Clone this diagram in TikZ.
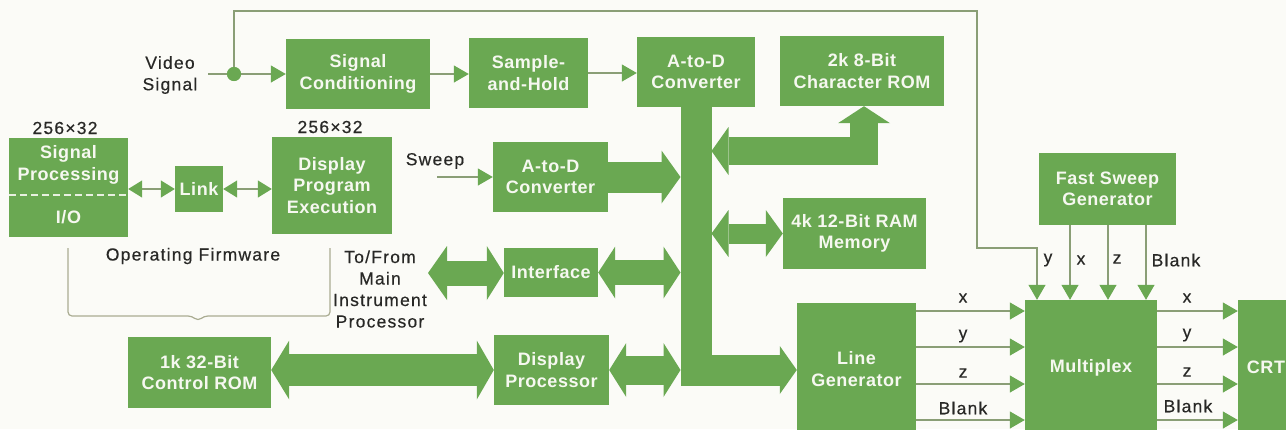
\documentclass[tikz,border=0pt]{standalone}
\usepackage{fontspec}
\setmainfont{Liberation Sans}[LetterSpace=7, FakeBold=0.4]
\newfontfamily\boxfont{Liberation Sans}[LetterSpace=3]
\usetikzlibrary{arrows.meta}
\definecolor{grn}{RGB}{106,168,82}
\definecolor{wire}{RGB}{138,158,118}
\definecolor{ink}{RGB}{40,40,38}
\definecolor{paper}{RGB}{251,251,247}
\definecolor{boxtxt}{RGB}{246,248,240}
\definecolor{brk}{RGB}{170,172,146}
\tikzset{
  blk/.style={fill=grn, text=boxtxt, inner sep=0pt, align=center,
    font=\boxfont\bfseries\fontsize{18}{21.5}\selectfont},
  lbl/.style={text=ink, inner sep=0pt, align=center,
    font=\fontsize{17.5}{21.5}\selectfont},
  wireline/.style={draw=wire, line width=1.2pt},
  sig/.style={wireline, -{Triangle[length=15pt,width=17pt,color=grn]}},
  bus/.style={draw=grn, line cap=butt, line join=miter}
}
\begin{document}
\begin{tikzpicture}[x=1pt,y=-1pt]
\fill[paper] (0,0) rectangle (1286,429);
\useasboundingbox (0,0) rectangle (1286,429);

% blocks
\node[blk,minimum width=144,minimum height=70] (sc)   at (358,74)    {Signal\\Conditioning};
\node[blk,minimum width=119,minimum height=70] (sh)   at (528.5,73)  {Sample-\\and-Hold};
\node[blk,minimum width=118,minimum height=70] (adc1) at (696,72)    {A-to-D\\Converter};
\node[blk,minimum width=164,minimum height=70] (crom) at (862,71)    {2k 8-Bit\\Character ROM};
\node[blk,minimum width=119,minimum height=99] (sp)   at (68.5,187.5) {};
\node[blk,fill=none] (sptop) at (68.5,165) {Signal\\Processing};
\node[blk,fill=none] (spio)  at (68.5,217) {I/O};
\node[blk,minimum width=48,minimum height=46]  (link) at (199,189)   {Link};
\node[blk,minimum width=120,minimum height=97] (dpe)  at (332,185.5) {Display\\Program\\Execution};
\node[blk,minimum width=115,minimum height=70] (adc2) at (550.5,177) {A-to-D\\Converter};
\node[blk,minimum width=137,minimum height=72] (fsg)  at (1107.5,189) {Fast Sweep\\Generator};
\node[blk,minimum width=143,minimum height=71] (ram)  at (854.5,233.5) {4k 12-Bit RAM\\Memory};
\node[blk,minimum width=94,minimum height=49]  (iface) at (551,272.5) {Interface};
\node[blk,minimum width=143,minimum height=71] (ctl)  at (199.5,372.5) {1k 32-Bit\\Control ROM};
\node[blk,minimum width=115,minimum height=70] (dp)   at (551.5,370) {Display\\Processor};
\node[blk,minimum width=119,minimum height=132] (lg)  at (856.5,369) {Line\\Generator};
\node[blk,minimum width=132,minimum height=135] (mux) at (1091,367.5) {Multiplex};
\node[blk,minimum width=56,minimum height=135]  (crt) at (1266,367.5) {CRT};

% dashed divider inside the signal processing block
\draw[boxtxt!90!grn, line width=1.3pt, dash pattern=on 7pt off 4pt]
  (sp.west |- 0,195) -- (sp.east |- 0,195);

% plain labels
\node[lbl] (video) at (170,75) {Video\\Signal};
\node[lbl] (sweep) at (435,161) {Sweep};
\node[lbl] (sz1)   at (65,128) {256×32};
\node[lbl] (sz2)   at (330,127) {256×32};
\node[lbl] (fw)    at (193,256) {Operating Firmware};
\node[lbl] (host)  at (380,289) {To/From\\Main\\Instrument\\Processor};

% reference points
\coordinate (vin)  at (208,74);
\coordinate (swin) at (437,177);
\coordinate (hostio) at (428,273);
\coordinate (busL) at (680.5,0);
\coordinate (busR) at (711.5,0);
\coordinate (bc)   at (0,370);
\coordinate (rk)   at (864,151);
\coordinate (my)   at (1037,248);
\coordinate (cx1)  at (1070,0);
\coordinate (cz1)  at (1108,0);
\coordinate (cb1)  at (1146,0);
\coordinate (r1) at (0,311);
\coordinate (r2) at (0,347);
\coordinate (r3) at (0,384);
\coordinate (r4) at (0,420);

% video path
\node[circle, fill=grn, minimum size=14, inner sep=0pt] (dot) at (234,74) {};
\draw[wireline] (vin) -- (dot);
\draw[sig] (dot) -- (sc.west);
\draw[sig] (dot.center) -- (dot.center |- 0,11) -- (977,11) -- (977,248) -- (my) -- (my |- mux.north);
\node[circle, fill=grn, minimum size=14, inner sep=0pt] at (dot) {};
\draw[sig] (sc.east) -- (sc.east -| sh.west);
\draw[sig] (sh.east) -- (sh.east -| adc1.west);
\draw[sig] (swin) -- (adc2.west);

% link
\draw[wireline, {Triangle[length=14pt,width=17pt,color=grn]}-{Triangle[length=14pt,width=17pt,color=grn]}]
  (link.west -| sp.east) -- (link.west);
\draw[wireline, {Triangle[length=14pt,width=17pt,color=grn]}-{Triangle[length=14pt,width=17pt,color=grn]}]
  (link.east) -- (link.east -| dpe.west);

% firmware bracket
\draw[brk, line width=1.2pt, rounded corners=4pt]
  (68,248) -- (68,316) -- (192,316) -- (198,321) -- (204,316) -- (330,316) -- (330,248);

% data bus
\draw[bus, line width=31pt, -{Triangle[length=17pt,width=48pt,line width=0pt 0 0]}]
  (adc1.south) -- (adc1.south |- bc) -- (lg.west |- bc);
\draw[bus, line width=31pt, -{Triangle[length=19pt,width=53pt,line width=0pt 0 0]}]
  (adc2.east) -- (adc2.east -| busL);
\draw[bus, line width=28pt, {Triangle[length=17pt,width=48pt,line width=0pt 0 0]}-{Triangle[length=17pt,width=52pt,line width=0pt 0 0]}]
  (busR |- rk) -- (rk) -- (rk |- crom.south);
\draw[bus, line width=20pt, {Triangle[length=17pt,width=47pt,line width=0pt 0 0]}-{Triangle[length=17pt,width=47pt,line width=0pt 0 0]}]
  (busR |- ram.west) -- (ram.west);
\draw[bus, line width=25pt, {Triangle[length=19pt,width=54pt,line width=0pt 0 0]}-{Triangle[length=17pt,width=54pt,line width=0pt 0 0]}]
  (hostio) -- (hostio -| iface.west);
\draw[bus, line width=25pt, {Triangle[length=17pt,width=52pt,line width=0pt 0 0]}-{Triangle[length=17pt,width=52pt,line width=0pt 0 0]}]
  (iface.east) -- (iface.east -| busL);
\draw[bus, line width=29pt, {Triangle[length=17pt,width=54pt,line width=0pt 0 0]}-{Triangle[length=17pt,width=54pt,line width=0pt 0 0]}]
  (dp.east) -- (dp.east -| busL);
\draw[bus, line width=32pt, {Triangle[length=18pt,width=59pt,line width=0pt 0 0]}-{Triangle[length=17pt,width=59pt,line width=0pt 0 0]}]
  (ctl.east |- dp.west) -- (dp.west);

% fast sweep lines
\draw[sig] (fsg.south -| cx1) -- (mux.north -| cx1);
\draw[sig] (fsg.south -| cz1) -- (mux.north -| cz1);
\draw[sig] (fsg.south -| cb1) -- (mux.north -| cb1);
\node[lbl] (ty) at (1048,260) {y};
\node[lbl] (tx) at (1081,260) {x};
\node[lbl] (tz) at (1117,259) {z};
\node[lbl] (tb) at (1176,260) {Blank};

% line generator to multiplex
\foreach \r in {r1,r2,r3,r4}{
  \draw[sig] (lg.east |- \r) -- (mux.west |- \r);
  \draw[sig] (mux.east |- \r) -- (crt.west |- \r);
}
\node[lbl] (ix) at (963,298) {x};
\node[lbl] (iy) at (963,336) {y};
\node[lbl] (iz) at (963,373) {z};
\node[lbl] (ib) at (963,408) {Blank};
\node[lbl] (ox) at (1187,298) {x};
\node[lbl] (oy) at (1187,335) {y};
\node[lbl] (oz) at (1187,372) {z};
\node[lbl] (ob) at (1188,406) {Blank};
\end{tikzpicture}
\end{document}
